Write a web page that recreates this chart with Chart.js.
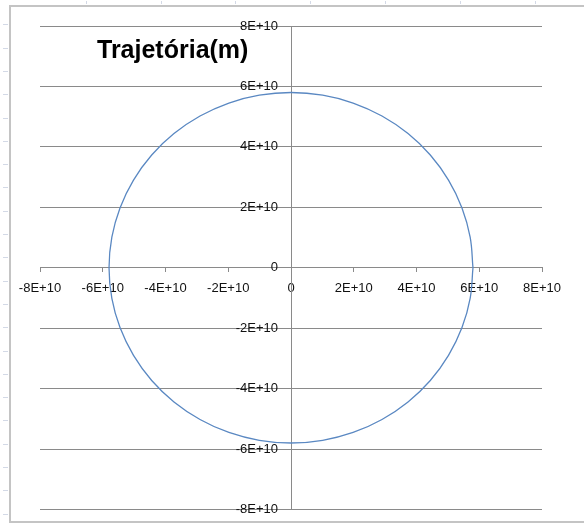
<!DOCTYPE html>
<html>
<head>
<meta charset="utf-8">
<script src="https://cdn.jsdelivr.net/npm/chart.js@4"></script>
<style>
  html, body { margin: 0; padding: 0; background: #fff; overflow: hidden; }
  #wrap { position: relative; width: 584px; height: 524px; overflow: hidden; }
  #moldura {
    position: absolute; left: 9px; top: 5px; width: 700px; height: 514px;
    border-left: 2px solid #c4c4c4; border-top: 2px solid #c4c4c4; border-bottom: 2px solid #c4c4c4;
  }
  /* marcas da planilha atrás do gráfico */
  #linhas {
    position: absolute; left: 3px; top: 0; width: 5px; height: 524px;
    background: repeating-linear-gradient(to bottom, transparent 0, transparent 22.3px, #d3d9e6 22.3px, #d3d9e6 23.3px);
    background-position: 0 2px;
  }
  #colunas {
    position: absolute; left: 0; top: 1px; width: 584px; height: 3px;
    background: repeating-linear-gradient(to right, transparent 0, transparent 73.8px, #d3d9e6 73.8px, #d3d9e6 74.8px);
    background-position: 12px 0;
  }
  canvas { position: absolute; left: 0; top: 0; }
</style>
</head>
<body>
<div id="wrap">
  <div id="linhas"></div>
  <div id="colunas"></div>
  <div id="moldura"></div>
  <canvas id="chartTrajetoria" width="584" height="524"></canvas>
</div>
<script>
// ── Dados (em metros) ─────────────────────────────────────────
const titulo = 'Trajetória(m)';

// Pontos da órbita, de 10 em 10 graus (x, y)
const orbitaX = [
  5.80e10, 5.71e10, 5.45e10, 5.02e10, 4.44e10, 3.73e10, 2.90e10, 1.98e10, 1.01e10, 0,
  -1.01e10, -1.98e10, -2.90e10, -3.73e10, -4.44e10, -5.02e10, -5.45e10, -5.71e10, -5.80e10,
  -5.71e10, -5.45e10, -5.02e10, -4.44e10, -3.73e10, -2.90e10, -1.98e10, -1.01e10, 0,
  1.01e10, 1.98e10, 2.90e10, 3.73e10, 4.44e10, 5.02e10, 5.45e10, 5.71e10, 5.80e10
];
const orbitaY = [
  0, 1.01e10, 1.98e10, 2.90e10, 3.73e10, 4.44e10, 5.02e10, 5.45e10, 5.71e10, 5.80e10,
  5.71e10, 5.45e10, 5.02e10, 4.44e10, 3.73e10, 2.90e10, 1.98e10, 1.01e10, 0,
  -1.01e10, -1.98e10, -2.90e10, -3.73e10, -4.44e10, -5.02e10, -5.45e10, -5.71e10, -5.80e10,
  -5.71e10, -5.45e10, -5.02e10, -4.44e10, -3.73e10, -2.90e10, -1.98e10, -1.01e10, 0
];

// Limites e passo dos eixos
const eixoMin = -8e10;
const eixoMax = 8e10;
const eixoPasso = 2e10;

// ── Utilidades ────────────────────────────────────────────────
function fmtCientifico(v) {
  if (v === 0) return '0';
  return (v / 1e10) + 'E+10';
}

const COR_GRADE = '#8a8a8a';
const FONTE_TICKS = { family: 'Liberation Sans', size: 13 };

// Título desenhado dentro da área do gráfico
const tituloPlugin = {
  id: 'tituloInterno',
  afterDraw(chart) {
    const ctx = chart.ctx;
    ctx.save();
    ctx.font = 'bold 25px "Liberation Sans"';
    ctx.fillStyle = '#000';
    ctx.textAlign = 'left';
    ctx.textBaseline = 'alphabetic';
    ctx.fillText(titulo, 97, 58);
    ctx.restore();
  }
};

// Rótulos do eixo Y à esquerda do eixo central, com folga (como no Excel)
const rotulosYPlugin = {
  id: 'rotulosY',
  afterDraw(chart) {
    const { ctx, scales: { x, y } } = chart;
    const x0 = x.getPixelForValue(0);
    ctx.save();
    ctx.font = `${FONTE_TICKS.size}px "${FONTE_TICKS.family}"`;
    ctx.fillStyle = '#111';
    ctx.textAlign = 'right';
    ctx.textBaseline = 'middle';
    y.ticks.forEach(t => {
      ctx.fillText(fmtCientifico(t.value), x0 - 13, y.getPixelForValue(t.value));
    });
    ctx.restore();
  }
};

// ── Gráfico ───────────────────────────────────────────────────
const ctx = document.getElementById('chartTrajetoria').getContext('2d');
new Chart(ctx, {
  type: 'scatter',
  data: {
    datasets: [{
      label: titulo,
      data: orbitaX.map((x, i) => ({ x, y: orbitaY[i] })),
      showLine: true,
      borderColor: '#5a88c2',
      borderWidth: 1.3,
      pointRadius: 0,
      tension: 0.4,
      fill: false
    }]
  },
  options: {
    responsive: false,
    animation: false,
    layout: { padding: { left: 40, top: 26, right: 42, bottom: 14.5 } },
    plugins: {
      legend: { display: false },
      tooltip: { enabled: false }
    },
    scales: {
      x: {
        type: 'linear',
        position: { y: 0 },
        min: eixoMin, max: eixoMax,
        afterFit: s => { s.height = 0; },
        grid: { drawOnChartArea: false, drawTicks: true, tickLength: 4, color: COR_GRADE },
        border: { color: COR_GRADE, width: 1 },
        ticks: {
          stepSize: eixoPasso, padding: 9, color: '#111', font: FONTE_TICKS,
          maxRotation: 0, autoSkip: false,
          callback: v => fmtCientifico(v)
        }
      },
      y: {
        type: 'linear',
        position: { x: 0 },
        min: eixoMin, max: eixoMax,
        afterFit: s => { s.width = 0; },
        grid: { color: COR_GRADE, drawTicks: false, lineWidth: 1 },
        border: { color: COR_GRADE, width: 1 },
        ticks: {
          stepSize: eixoPasso, display: false,
          callback: v => fmtCientifico(v)
        }
      }
    }
  },
  plugins: [tituloPlugin, rotulosYPlugin]
});
</script>
</body>
</html>
